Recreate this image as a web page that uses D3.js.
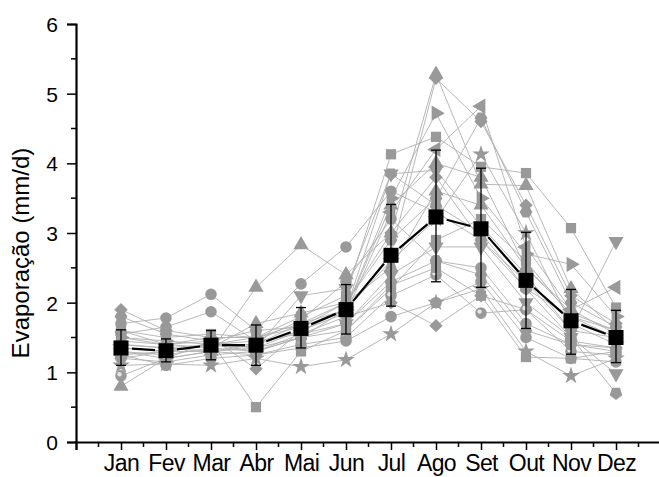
<!DOCTYPE html>
<html>
<head>
<meta charset="utf-8">
<script src="https://cdn.jsdelivr.net/npm/d3@7"></script>
<style>
  body { margin: 0; background: #fff; }
  svg { font-family: Arial, "Liberation Sans", sans-serif; }
</style>
</head>
<body>
<div id="chart"></div>
<script>
// months on the x axis
const months = ['Jan', 'Fev', 'Mar', 'Abr', 'Mai', 'Jun', 'Jul', 'Ago', 'Set', 'Out', 'Nov', 'Dez'];

// mean evaporation and the ends of the error bars
const meanValues = [1.35, 1.31, 1.39, 1.39, 1.63, 1.90, 2.68, 3.23, 3.06, 2.32, 1.74, 1.50];
const barLow  = [1.10, 1.15, 1.18, 1.10, 1.35, 1.55, 1.95, 2.30, 2.22, 1.63, 1.26, 1.14];
const barHigh = [1.61, 1.48, 1.60, 1.68, 1.93, 2.26, 3.41, 4.19, 3.93, 3.01, 2.19, 1.89];

// marker of each station
const stationShapes = ['square', 'square', 'circle', 'circle', 'up', 'up', 'down', 'down',
    'diamond', 'diamond', 'left', 'right', 'hexagon', 'star', 'star', 'pentagon',
    'sphere', 'hexagon', 'circle', 'square', 'diamond', 'up'];

// monthly values of each station
const stationValues = [
    [1.50, 1.40, 1.45, 0.50, 1.30, 1.60, 2.20, 2.90, 3.20, 2.60, 1.80, 1.60],
    [1.60, 1.50, 1.55, 1.50, 1.80, 2.10, 4.13, 4.38, 3.95, 3.86, 3.07, 1.93],
    [1.70, 1.78, 2.12, 1.60, 2.27, 2.80, 3.60, 3.30, 2.90, 2.20, 1.80, 1.50],
    [1.55, 1.65, 1.87, 1.45, 1.75, 2.30, 3.20, 2.60, 2.50, 1.70, 1.40, 1.30],
    [0.80, 1.20, 1.30, 2.22, 2.83, 2.40, 3.00, 5.28, 3.70, 3.68, 2.20, 1.60],
    [1.30, 1.25, 1.35, 1.70, 1.85, 2.00, 2.50, 3.60, 3.40, 2.50, 1.90, 1.55],
    [1.35, 1.30, 1.40, 1.35, 2.10, 2.20, 3.85, 3.90, 3.10, 2.40, 1.60, 2.88],
    [1.20, 1.15, 1.25, 1.30, 1.50, 1.70, 2.40, 2.80, 2.80, 2.00, 1.50, 0.98],
    [1.90, 1.60, 1.50, 1.05, 1.60, 1.90, 2.70, 5.22, 4.60, 3.40, 2.10, 1.70],
    [1.25, 1.30, 1.40, 1.45, 1.55, 1.80, 2.00, 1.67, 2.10, 1.90, 1.45, 1.35],
    [1.40, 1.35, 1.30, 1.40, 1.60, 1.85, 3.30, 4.20, 4.82, 2.80, 1.90, 2.22],
    [1.50, 1.45, 1.40, 1.50, 1.70, 1.90, 3.50, 4.72, 3.50, 2.70, 2.55, 1.80],
    [1.80, 1.55, 1.45, 1.60, 1.65, 2.00, 2.90, 3.50, 4.65, 3.30, 2.00, 1.65],
    [1.10, 1.12, 1.10, 1.20, 1.08, 1.18, 1.55, 2.00, 2.20, 1.30, 0.95, 1.20],
    [1.30, 1.20, 1.45, 1.35, 1.60, 1.90, 2.60, 3.20, 4.13, 3.00, 1.70, 1.40],
    [1.60, 1.40, 1.35, 1.30, 1.50, 1.90, 3.85, 3.40, 3.00, 2.20, 1.50, 0.70],
    [0.95, 1.20, 1.30, 1.25, 1.40, 1.50, 2.10, 2.40, 1.85, 1.90, 1.30, 1.25],
    [1.20, 1.30, 1.40, 1.30, 1.55, 1.70, 2.30, 2.60, 2.40, 1.60, 1.40, 1.35],
    [1.25, 1.10, 1.20, 1.25, 1.35, 1.45, 1.80, 2.00, 2.30, 1.50, 1.20, 1.15],
    [1.35, 1.30, 1.30, 1.35, 1.50, 1.60, 2.25, 2.50, 2.10, 1.22, 1.20, 1.30],
    [1.40, 1.35, 1.40, 1.40, 1.70, 2.00, 3.00, 3.80, 2.90, 2.30, 1.60, 1.50],
    [1.45, 1.40, 1.50, 1.50, 1.65, 1.90, 3.40, 4.00, 3.80, 2.50, 1.85, 1.60]
];

const yTicks = [0, 1, 2, 3, 4, 5, 6];

const width = 659, height = 477;

const svg = d3.select('#chart')
    .append('svg')
    .attr('width', width)
    .attr('height', height);

// month i sits at position i + 1, axis runs from 0 to 13
const x = d3.scaleLinear().domain([0, 13]).range([76, 661]);
const y = d3.scaleLinear().domain([0, 6]).range([442, 24]);

// polygon symbol helper for hexagon / pentagon
function polygon(n, rot) {
    return {
        draw(context, size) {
            const r = Math.sqrt(size / (0.5 * n * Math.sin(2 * Math.PI / n)));
            for (let k = 0; k < n; k++) {
                const a = rot + k * 2 * Math.PI / n;
                const px = r * Math.sin(a), py = -r * Math.cos(a);
                if (k === 0) context.moveTo(px, py); else context.lineTo(px, py);
            }
            context.closePath();
        }
    };
}

const shapeDef = {
    square:   { type: d3.symbolSquare, size: 105, rot: 0 },
    circle:   { type: d3.symbolCircle, size: 105, rot: 0 },
    sphere:   { type: d3.symbolCircle, size: 105, rot: 0 },
    up:       { type: d3.symbolTriangle, size: 100, rot: 0 },
    down:     { type: d3.symbolTriangle, size: 100, rot: 180 },
    left:     { type: d3.symbolTriangle, size: 100, rot: -90 },
    right:    { type: d3.symbolTriangle, size: 100, rot: 90 },
    diamond:  { type: d3.symbolSquare, size: 90, rot: 45 },
    star:     { type: d3.symbolStar, size: 95, rot: 0 },
    hexagon:  { type: polygon(6, Math.PI / 6), size: 105, rot: 0 },
    pentagon: { type: polygon(5, Math.PI), size: 105, rot: 0 }
};

// gray station lines
const line = d3.line()
    .x((d, i) => x(i + 1))
    .y(d => y(d));

svg.append('g')
    .selectAll('path')
    .data(stationValues)
    .enter()
    .append('path')
    .attr('d', line)
    .attr('fill', 'none')
    .attr('stroke', '#b0b0b0')
    .attr('stroke-width', 0.9);

// gray station markers
stationValues.forEach((vals, s) => {
    const def = shapeDef[stationShapes[s]];
    const g = svg.append('g');
    g.selectAll('path')
        .data(vals)
        .enter()
        .append('path')
        .attr('d', d3.symbol().type(def.type).size(def.size))
        .attr('transform', (d, i) => `translate(${x(i + 1)},${y(d)}) rotate(${def.rot})`)
        .attr('fill', '#999999');
    if (stationShapes[s] === 'sphere') {
        g.selectAll('circle')
            .data(vals)
            .enter()
            .append('circle')
            .attr('cx', (d, i) => x(i + 1) - 1.5)
            .attr('cy', d => y(d) - 1.5)
            .attr('r', 2.2)
            .attr('fill', '#e6e6e6');
    }
});

// black mean line, with a small gap at each square
const gap = 11;
const segs = d3.pairs(meanValues.map((v, i) => [x(i + 1), y(v)]));
svg.append('g')
    .selectAll('line')
    .data(segs)
    .enter()
    .append('line')
    .each(function ([a, b]) {
        const dx = b[0] - a[0], dy = b[1] - a[1];
        const len = Math.hypot(dx, dy);
        d3.select(this)
            .attr('x1', a[0] + dx / len * gap)
            .attr('y1', a[1] + dy / len * gap)
            .attr('x2', b[0] - dx / len * gap)
            .attr('y2', b[1] - dy / len * gap);
    })
    .attr('stroke', '#000')
    .attr('stroke-width', 2.2);

// error bars
const eb = svg.append('g').attr('stroke', '#000').attr('stroke-width', 1.3);
months.forEach((m, i) => {
    const cx = x(i + 1);
    eb.append('line').attr('x1', cx).attr('x2', cx).attr('y1', y(barLow[i])).attr('y2', y(barHigh[i]));
    eb.append('line').attr('x1', cx - 5).attr('x2', cx + 5).attr('y1', y(barLow[i])).attr('y2', y(barLow[i]));
    eb.append('line').attr('x1', cx - 5).attr('x2', cx + 5).attr('y1', y(barHigh[i])).attr('y2', y(barHigh[i]));
});

// mean squares
svg.append('g')
    .selectAll('rect')
    .data(meanValues)
    .enter()
    .append('rect')
    .attr('x', (d, i) => x(i + 1) - 7.5)
    .attr('y', d => y(d) - 7.5)
    .attr('width', 15)
    .attr('height', 15)
    .attr('fill', '#000');

// y axis
const yAxis = svg.append('g')
    .attr('transform', `translate(${x(0)},0)`)
    .call(d3.axisLeft(y).tickValues(yTicks).tickSize(9).tickPadding(9).tickFormat(d3.format('d')));
yAxis.append('g')
    .selectAll('line')
    .data(d3.range(0.5, 6, 1))
    .enter()
    .append('line')
    .attr('x1', -5).attr('x2', 0)
    .attr('y1', d => y(d)).attr('y2', d => y(d))
    .attr('stroke', '#000').attr('stroke-width', 1.5);

// x axis
const xAxis = svg.append('g')
    .attr('transform', `translate(0,${y(0)})`)
    .call(d3.axisBottom(x).tickValues(d3.range(0, 13)).tickSize(8).tickPadding(5)
        .tickFormat(d => d >= 1 && d <= 12 ? months[d - 1] : ''));
xAxis.append('g')
    .selectAll('line')
    .data(d3.range(0.5, 13, 1))
    .enter()
    .append('line')
    .attr('x1', d => x(d)).attr('x2', d => x(d))
    .attr('y1', 0).attr('y2', 5)
    .attr('stroke', '#000').attr('stroke-width', 1.5);

[yAxis, xAxis].forEach(ax => {
    ax.select('.domain').attr('stroke-width', 2.2).attr('stroke', '#000');
    ax.selectAll('.tick line').attr('stroke-width', 1.5);
    ax.selectAll('.tick text').attr('fill', '#000').style('font-family', 'Arial, "Liberation Sans", sans-serif');
});
yAxis.selectAll('.tick text').style('font-size', '21px').attr('dy', '0.36em');
xAxis.selectAll('.tick text').style('font-size', '23px').style('letter-spacing', '-0.6px');

// y axis title
svg.append('text')
    .attr('transform', `translate(29,${(143 + 363) / 2}) rotate(-90)`)
    .attr('text-anchor', 'middle')
    .style('font-size', '24px')
    .attr('fill', '#000')
    .text('Evaporação (mm/d)');
</script>
</body>
</html>
